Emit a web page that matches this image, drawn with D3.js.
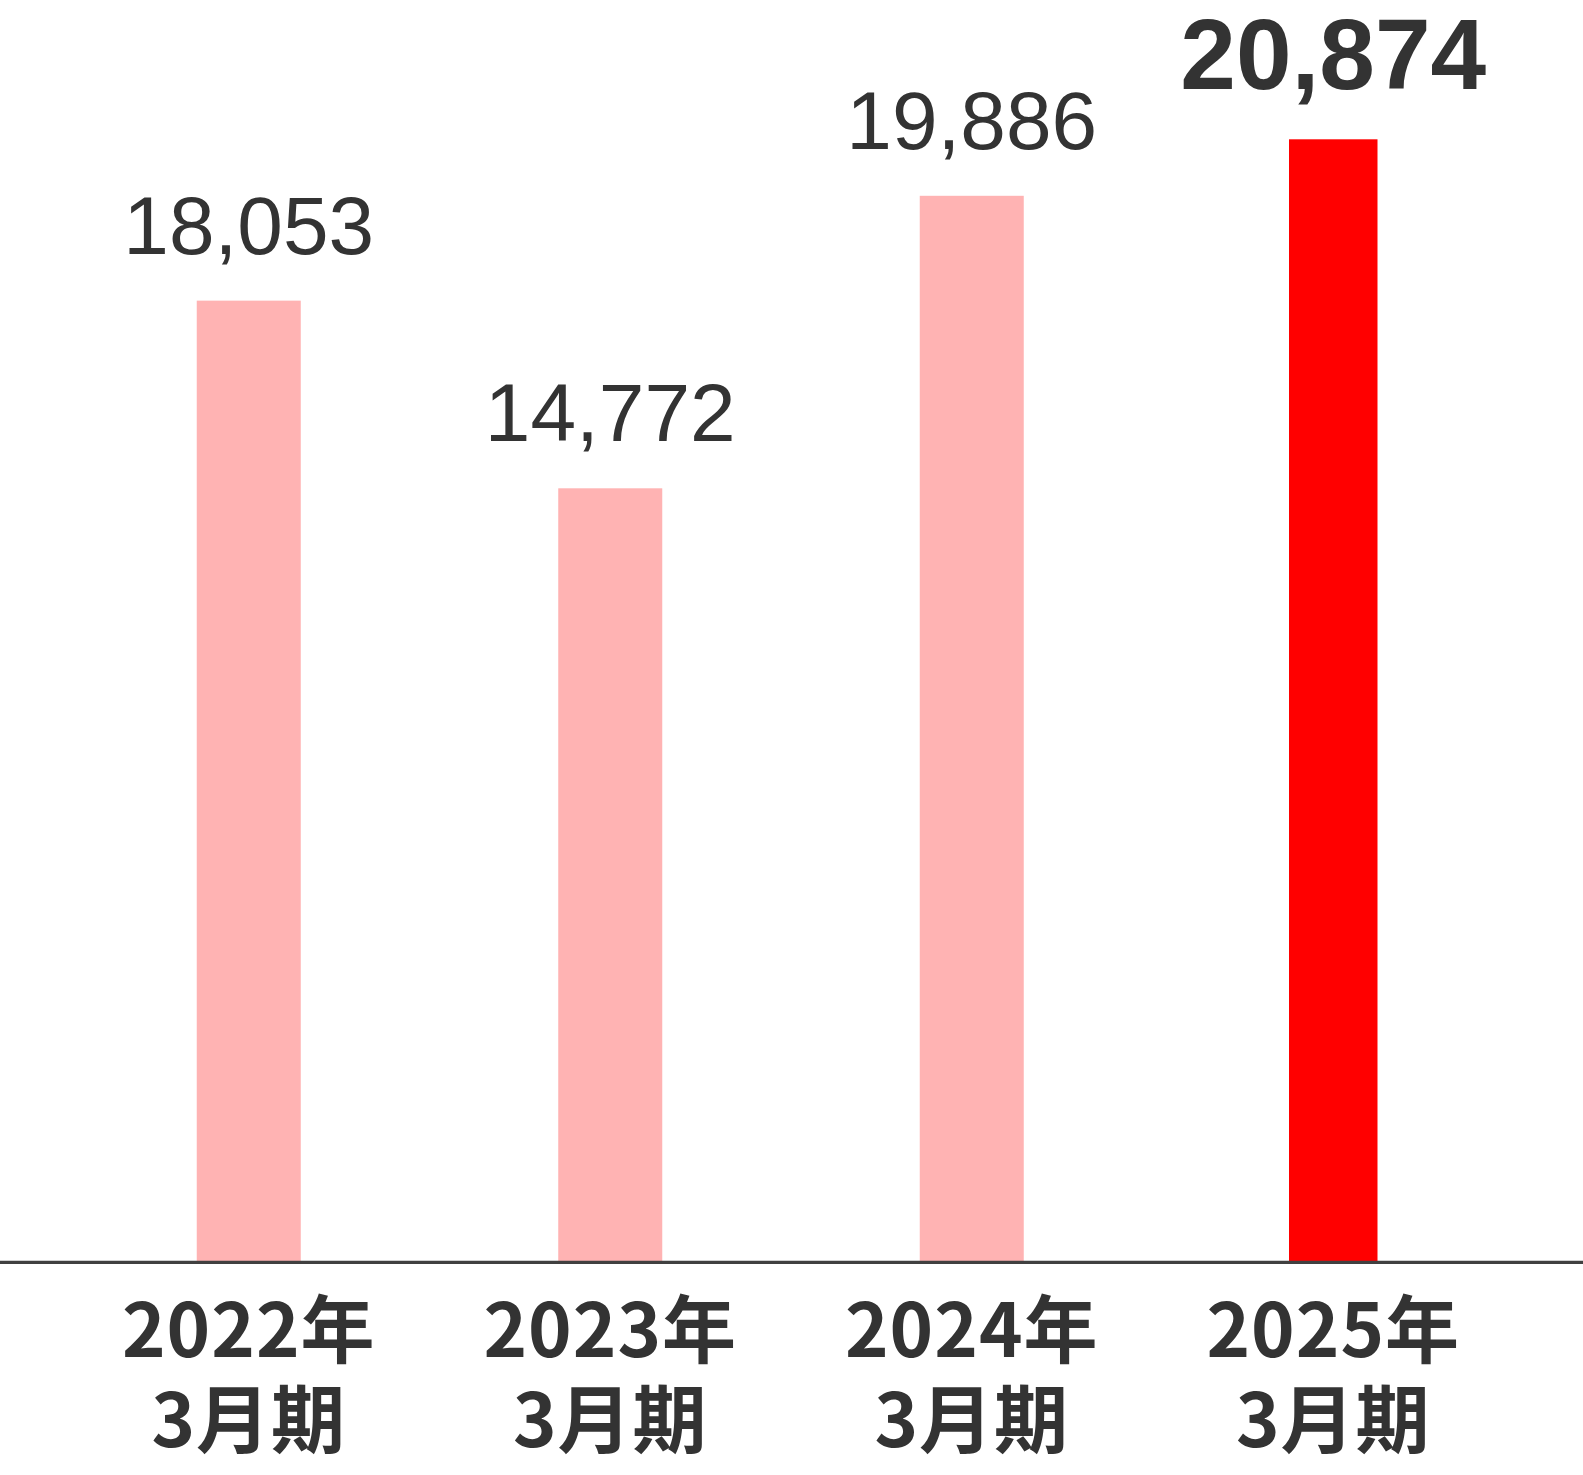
<!DOCTYPE html>
<html>
<head>
<meta charset="utf-8">
<script src="https://cdn.jsdelivr.net/npm/d3@7"></script>
<style>
  html, body { margin: 0; padding: 0; background: #ffffff; }
  svg { display: block; }
</style>
</head>
<body>
<svg id="chart" width="1583" height="1475"></svg>
<script>
// ---- data ----
const categoryYears = ["2022年", "2023年", "2024年", "2025年"];
const categoryPeriods = ["3月期", "3月期", "3月期", "3月期"];
const values = [18053, 14772, 19886, 20874];
const valueLabels = ["18,053", "14,772", "19,886", "20,874"];

// ---- layout ----
const W = 1583, H = 1475;
const baseY = 1261;
const topY = 139.3;
const highlightIndex = 3;
const svg = d3.select("#chart");

const x = d3.scaleBand()
  .domain(categoryYears)
  .range([68, 1514])
  .padding(0);

// axis floor does not start at zero in the original chart
const y = d3.scaleLinear()
  .domain([1262, 20874])
  .range([baseY, topY]);

const pink = "#ffb3b3";
const red = "#ff0000";
const textColor = "#333333";

const data = values.map((v, i) => ({
  year: categoryYears[i], period: categoryPeriods[i], value: v, label: valueLabels[i], i
}));

const barW = d => d.i === highlightIndex ? 88.5 : 104;
const cx = d => x(d.year) + x.bandwidth() / 2;

svg.selectAll("rect.bar")
  .data(data)
  .join("rect")
  .attr("class", "bar")
  .attr("x", d => cx(d) - barW(d) / 2)
  .attr("width", barW)
  .attr("y", d => y(d.value))
  .attr("height", d => baseY - y(d.value))
  .attr("fill", d => d.i === highlightIndex ? red : pink);

svg.selectAll("text.val")
  .data(data)
  .join("text")
  .attr("class", "val")
  .attr("x", cx)
  .attr("y", d => y(d.value) - (d.i === highlightIndex ? 50 : 47))
  .attr("text-anchor", "middle")
  .attr("fill", textColor)
  .style("font-family", "'Liberation Sans', Arial, sans-serif")
  .style("font-size", d => d.i === highlightIndex ? "100px" : "82px")
  .style("font-weight", d => d.i === highlightIndex ? "bold" : "normal")
  .text(d => d.label);

// x axis
const axis = d3.axisBottom(x).tickSize(0).tickPadding(0);
const gAxis = svg.append("g")
  .attr("transform", `translate(0,${baseY})`)
  .call(axis);
gAxis.select(".domain").remove();
gAxis.selectAll(".tick text").remove();
gAxis.selectAll(".tick").each(function(d, i) {
  const g = d3.select(this);
  const common = sel => sel
    .attr("text-anchor", "middle")
    .attr("fill", textColor)
    .style("font-family", "'Noto Sans CJK JP', sans-serif")
    .style("font-size", "74px")
    .style("font-weight", "bold")
    .style("letter-spacing", "1px");
  g.append("text").call(common).attr("x", 0).attr("y", 96).text(categoryYears[i]);
  g.append("text").call(common).attr("x", 0).attr("y", 186).text(categoryPeriods[i]);
});

svg.append("line")
  .attr("x1", 0).attr("x2", W)
  .attr("y1", 1262.3).attr("y2", 1262.3)
  .attr("stroke", "#404040")
  .attr("stroke-width", 3.3);
</script>
</body>
</html>
